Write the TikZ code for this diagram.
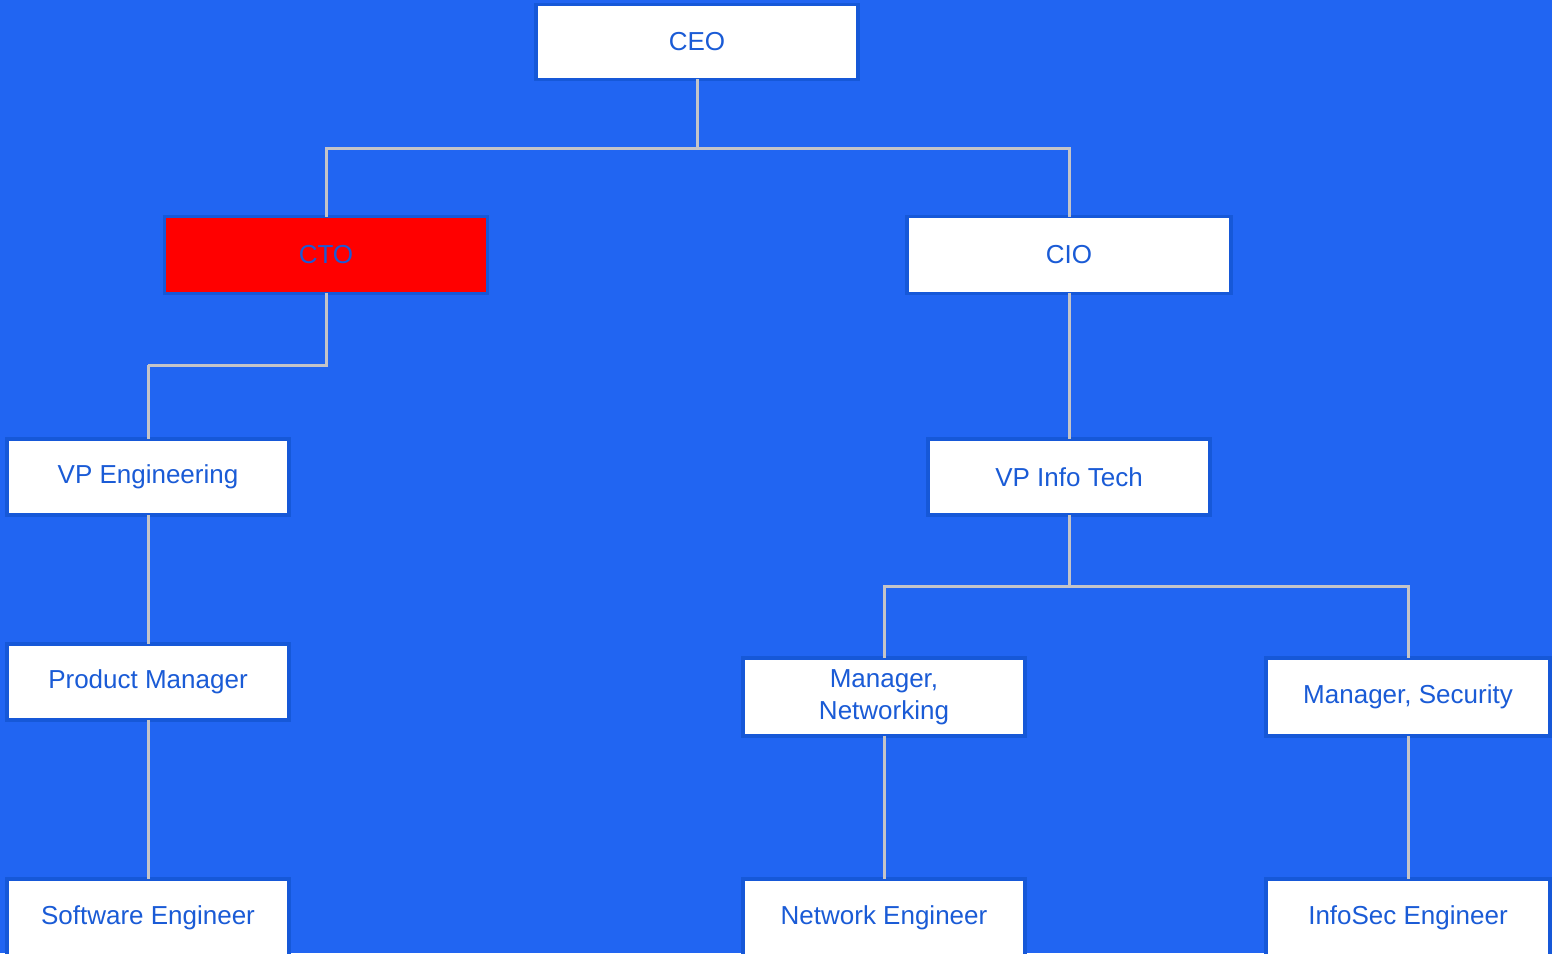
\documentclass[tikz,border=0pt]{standalone}
\usepackage{fontspec}
\setmainfont{Liberation Sans}
\begin{document}
\definecolor{bgblue}{HTML}{2165F2}
\definecolor{edgeblue}{HTML}{1658D8}
\definecolor{txtblue}{HTML}{1A5BD6}
\definecolor{linkgray}{HTML}{C4C4C8}
\begin{tikzpicture}[x=1pt,y=-1pt,
  role/.style={draw=edgeblue,line width=3.5pt,fill=white,minimum width=#1,
    inner sep=0pt,align=center,text=txtblue,font=\fontsize{26}{32}\selectfont},
  role/.default={282pt},
  link/.style={draw=linkgray,line width=3pt}]
\fill[bgblue] (0,0) rectangle (1552,953);
\useasboundingbox (0,0) rectangle (1552,953);
% top level
\node[role=322pt,minimum height=75pt] (ceo) at (697,42) {CEO};
% second level
\node[role=323pt,minimum height=77pt,fill=red] (cto) at (326,255) {CTO};
\node[role=324pt,minimum height=77pt] (cio) at (1069,255) {CIO};
% third level
\node[role,minimum height=76pt] (vpe) at (148,477) {VP Engineering};
\node[role,minimum height=76pt] (vpi) at (1069,477) {VP Info Tech};
% fourth level
\node[role,minimum height=76pt] (pm) at (148,682) {Product Manager};
\node[role,minimum height=78pt] (mn) at (884,697) {Manager,\\Networking};
\node[role=284pt,minimum height=78pt] (ms) at (1408,697) {Manager, Security};
% bottom level (runs off the lower edge)
\node[role,minimum height=78pt] (se) at (148,918) {Software Engineer};
\node[role,minimum height=78pt] (ne) at (884,918) {Network Engineer};
\node[role=284pt,minimum height=78pt] (ie) at (1408,918) {InfoSec Engineer};
% junction points of the branching connectors
\coordinate (ceoj) at (697,148);
\coordinate (ctoj) at (148,365);
\coordinate (vpij) at (1069,586);
% connectors
\draw[link] ([yshift=2pt]ceo.south) -- (ceoj);
\draw[link] (ceoj) -| ([yshift=-2pt]cto.north);
\draw[link] (ceoj) -| ([yshift=-2pt]cio.north);
\draw[link] ([yshift=2pt]cto.south) |- (ctoj);
\draw[link] (ctoj) -- ([yshift=-2pt]vpe.north);
\draw[link] ([yshift=2pt]cio.south) -- ([yshift=-2pt]vpi.north);
\draw[link] ([yshift=2pt]vpi.south) -- (vpij);
\draw[link] (vpij) -| ([yshift=-2pt]mn.north);
\draw[link] (vpij) -| ([yshift=-2pt]ms.north);
\draw[link] ([yshift=2pt]vpe.south) -- ([yshift=-2pt]pm.north);
\draw[link] ([yshift=2pt]pm.south) -- ([yshift=-2pt]se.north);
\draw[link] ([yshift=2pt]mn.south) -- ([yshift=-2pt]ne.north);
\draw[link] ([yshift=2pt]ms.south) -- ([yshift=-2pt]ie.north);
\end{tikzpicture}
\end{document}
